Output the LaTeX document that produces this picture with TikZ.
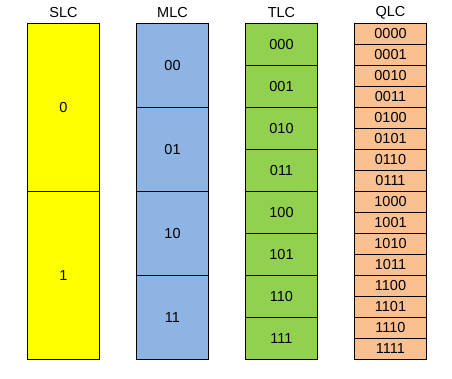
\documentclass[tikz,border=0pt]{standalone}
\usepackage{fontspec}
\setmainfont{Liberation Sans}
\usepackage{tikz}
\usetikzlibrary{positioning}

\definecolor{slccol}{HTML}{FFFF00}
\definecolor{mlccol}{HTML}{8EB4E3}
\definecolor{tlccol}{HTML}{92D050}
\definecolor{qlccol}{HTML}{FAC090}

\begin{document}
\begin{tikzpicture}[x=1pt, y=-1pt, line width=1pt,
  cell/.style = {draw, inner sep=0pt, minimum width=72pt, font=\fontsize{14.5}{17}\selectfont},
  title/.style = {inner sep=0pt, font=\fontsize{14.5}{17}\selectfont}]
  \useasboundingbox (0, 0) rectangle (452, 379);

  %titles
  \node[title] (tslc) at (63.5, 13) {SLC};
  \node[title] (tmlc) at (172.5, 13) {MLC};
  \node[title] (ttlc) at (281.5, 13) {TLC};
  \node[title] (tqlc) at (390.5, 13) {QLC};

  %SLC guy
  \node[cell, fill=slccol, minimum height=168pt] (s0) at (63.5, 107.3) {0};
  \node[cell, fill=slccol, minimum height=168pt] (s1) at (63.5, 275.3) {1};

  %MLC guy
  \node[cell, fill=mlccol, minimum height=84pt] (m00) at (172.5, 65.3) {00};
  \node[cell, fill=mlccol, minimum height=84pt] (m01) at (172.5, 149.3) {01};
  \node[cell, fill=mlccol, minimum height=84pt] (m10) at (172.5, 233.3) {10};
  \node[cell, fill=mlccol, minimum height=84pt] (m11) at (172.5, 317.3) {11};

  %TLC guy
  \node[cell, fill=tlccol, minimum height=42pt] (t000) at (281.5, 44.3) {000};
  \node[cell, fill=tlccol, minimum height=42pt] (t001) at (281.5, 86.3) {001};
  \node[cell, fill=tlccol, minimum height=42pt] (t010) at (281.5, 128.3) {010};
  \node[cell, fill=tlccol, minimum height=42pt] (t011) at (281.5, 170.3) {011};
  \node[cell, fill=tlccol, minimum height=42pt] (t100) at (281.5, 212.3) {100};
  \node[cell, fill=tlccol, minimum height=42pt] (t101) at (281.5, 254.3) {101};
  \node[cell, fill=tlccol, minimum height=42pt] (t110) at (281.5, 296.3) {110};
  \node[cell, fill=tlccol, minimum height=42pt] (t111) at (281.5, 338.3) {111};

  %QLC guy
  \node[cell, fill=qlccol, minimum height=21pt] (q0000) at (390.5, 33.8) {0000};
  \node[cell, fill=qlccol, minimum height=21pt] (q0001) at (390.5, 54.8) {0001};
  \node[cell, fill=qlccol, minimum height=21pt] (q0010) at (390.5, 75.8) {0010};
  \node[cell, fill=qlccol, minimum height=21pt] (q0011) at (390.5, 96.8) {0011};
  \node[cell, fill=qlccol, minimum height=21pt] (q0100) at (390.5, 117.8) {0100};
  \node[cell, fill=qlccol, minimum height=21pt] (q0101) at (390.5, 138.8) {0101};
  \node[cell, fill=qlccol, minimum height=21pt] (q0110) at (390.5, 159.8) {0110};
  \node[cell, fill=qlccol, minimum height=21pt] (q0111) at (390.5, 180.8) {0111};
  \node[cell, fill=qlccol, minimum height=21pt] (q1000) at (390.5, 201.8) {1000};
  \node[cell, fill=qlccol, minimum height=21pt] (q1001) at (390.5, 222.8) {1001};
  \node[cell, fill=qlccol, minimum height=21pt] (q1010) at (390.5, 243.8) {1010};
  \node[cell, fill=qlccol, minimum height=21pt] (q1011) at (390.5, 264.8) {1011};
  \node[cell, fill=qlccol, minimum height=21pt] (q1100) at (390.5, 285.8) {1100};
  \node[cell, fill=qlccol, minimum height=21pt] (q1101) at (390.5, 306.8) {1101};
  \node[cell, fill=qlccol, minimum height=21pt] (q1110) at (390.5, 327.8) {1110};
  \node[cell, fill=qlccol, minimum height=21pt] (q1111) at (390.5, 348.8) {1111};
\end{tikzpicture}
\end{document}
